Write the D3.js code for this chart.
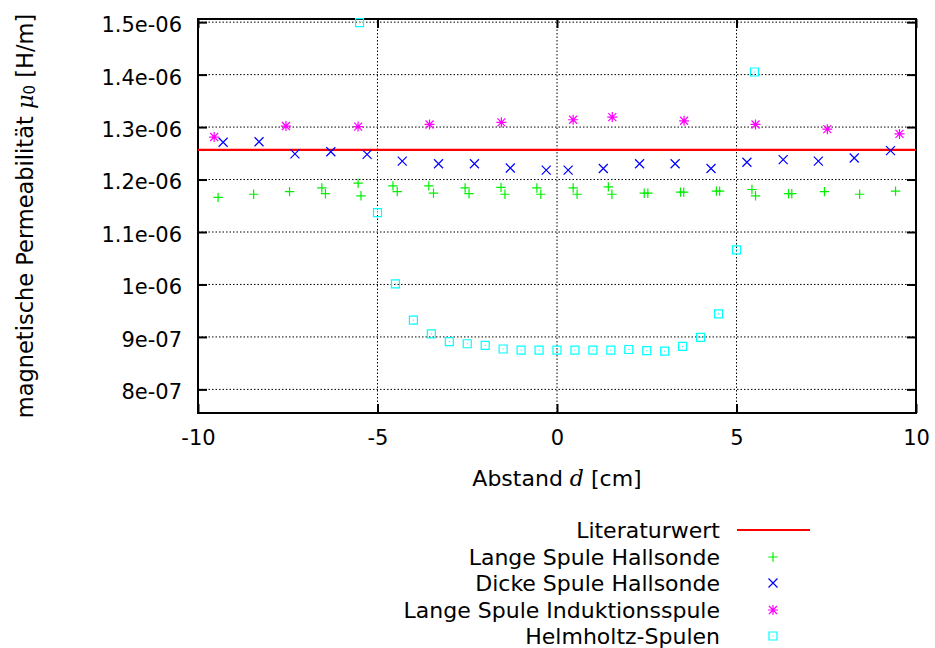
<!DOCTYPE html>
<html><head><meta charset="utf-8">
<script src="https://cdn.jsdelivr.net/npm/d3@7"></script>
<style>body{margin:0;background:#fff}svg{display:block}text{font-family:"DejaVu Sans",sans-serif;fill:#000}</style>
</head><body><svg id="c" width="935" height="648"></svg>
<script>
// ---- data ----
const literatureValue = 1.2566e-6;
const langeHallX = [-9.44,-8.45,-7.45,-6.55,-6.45,-5.54,-5.46,-4.57,-4.45,-3.57,-3.44,-2.56,-2.45,-1.56,-1.45,-0.56,-0.45,0.45,0.56,1.43,1.53,2.43,2.53,3.44,3.53,4.44,4.53,5.43,5.53,6.45,6.54,7.45,8.43,9.43];
const langeHallY = [1.166e-6,1.172e-6,1.177e-6,1.184e-6,1.173e-6,1.193e-6,1.169e-6,1.188e-6,1.177e-6,1.188e-6,1.174e-6,1.184e-6,1.173e-6,1.185e-6,1.172e-6,1.184e-6,1.172e-6,1.184e-6,1.172e-6,1.186e-6,1.172e-6,1.174e-6,1.174e-6,1.176e-6,1.176e-6,1.178e-6,1.178e-6,1.181e-6,1.169e-6,1.173e-6,1.173e-6,1.177e-6,1.172e-6,1.178e-6];
const dickeHallX = [-9.30,-8.30,-7.30,-6.30,-5.29,-4.31,-3.30,-2.30,-1.30,-0.30,0.31,1.29,2.30,3.29,4.29,5.29,6.30,7.28,8.28,9.29];
const dickeHallY = [1.271e-6,1.272e-6,1.249e-6,1.253e-6,1.248e-6,1.235e-6,1.230e-6,1.230e-6,1.222e-6,1.218e-6,1.218e-6,1.221e-6,1.230e-6,1.230e-6,1.221e-6,1.233e-6,1.238e-6,1.235e-6,1.241e-6,1.255e-6];
const langeIndX = [-9.55,-7.55,-5.54,-3.55,-1.55,0.45,1.54,3.54,5.53,7.53,9.54];
const langeIndY = [1.281e-6,1.302e-6,1.301e-6,1.305e-6,1.309e-6,1.314e-6,1.319e-6,1.312e-6,1.305e-6,1.296e-6,1.287e-6];
const helmX = [-5.5,-5.0,-4.5,-4.0,-3.5,-3.0,-2.5,-2.0,-1.5,-1.0,-0.5,0.0,0.5,1.0,1.5,2.0,2.5,3.0,3.5,4.0,4.5,5.0,5.5];
const helmY = [1.499e-6,1.137e-6,1.001e-6,0.932e-6,0.906e-6,0.891e-6,0.887e-6,0.884e-6,0.877e-6,0.875e-6,0.875e-6,0.875e-6,0.875e-6,0.875e-6,0.875e-6,0.876e-6,0.874e-6,0.873e-6,0.882e-6,0.899e-6,0.944e-6,1.066e-6,1.405e-6];
const xTicks = [-10,-5,0,5,10];
const xTickLabels = ["-10","-5","0","5","10"];
const yTicks = [8e-7,9e-7,1e-6,1.1e-6,1.2e-6,1.3e-6,1.4e-6,1.5e-6];
const yTickLabels = ["8e-07","9e-07","1e-06","1.1e-06","1.2e-06","1.3e-06","1.4e-06","1.5e-06"];
const legendLabels = ["Literaturwert","Lange Spule Hallsonde","Dicke Spule Hallsonde","Lange Spule Induktionsspule","Helmholtz-Spulen"];

// ---- layout ----
const L=198, R=916, T=19, B=413;
const x = d3.scaleLinear().domain([-10,10]).range([L,R]);
const y = d3.scaleLinear().domain([0.755e-6,1.506e-6]).range([B,T]);
const svg = d3.select("#c");

// grid
const grid = svg.append("g").attr("stroke","#000").attr("stroke-width",1).attr("stroke-dasharray","1.5,2");
grid.selectAll("line.gx").data(xTicks.filter(v=>v>-10&&v<10)).join("line")
  .attr("x1",d=>x(d)).attr("x2",d=>x(d)).attr("y1",T).attr("y2",B);
grid.selectAll("line.gy").data(yTicks).join("line")
  .attr("x1",L).attr("x2",R).attr("y1",d=>y(d)).attr("y2",d=>y(d));

// axes via d3 axis (inward ticks)
const ax = (g)=>g.call(s=>s.select(".domain").remove()).call(s=>s.selectAll("line").attr("stroke","#000").attr("stroke-width",2));
svg.append("g").attr("transform",`translate(0,${B})`).call(d3.axisBottom(x).tickValues(xTicks).tickSize(-9).tickPadding(17).tickFormat((d,i)=>xTickLabels[i])).call(ax)
  .selectAll("text").attr("font-size",21).attr("font-family","DejaVu Sans").attr("dy","0.71em");
svg.append("g").attr("transform",`translate(0,${T})`).call(d3.axisTop(x).tickValues(xTicks).tickSize(-9).tickFormat("")).call(ax);
svg.append("g").attr("transform",`translate(${L},0)`).call(d3.axisLeft(y).tickValues(yTicks).tickSize(-9).tickPadding(16).tickFormat((d,i)=>yTickLabels[i])).call(ax)
  .selectAll("text").attr("font-size",21).attr("font-family","DejaVu Sans").attr("dy","0.45em");
svg.append("g").attr("transform",`translate(${R},0)`).call(d3.axisRight(y).tickValues(yTicks).tickSize(-9).tickFormat("")).call(ax);

// border
svg.append("rect").attr("x",L).attr("y",T).attr("width",R-L).attr("height",B-T).attr("fill","none").attr("stroke","#000").attr("stroke-width",2);

// marker paths
function plusP(cx,cy,r){return `M${cx-r},${cy}H${cx+r}M${cx},${cy-r}V${cy+r}`;}
function xP(cx,cy,r){return `M${cx-r},${cy-r}L${cx+r},${cy+r}M${cx-r},${cy+r}L${cx+r},${cy-r}`;}
function starP(cx,cy,r){return plusP(cx,cy,r)+xP(cx,cy,r*0.8);}
function boxP(cx,cy,r){return `M${cx-r},${cy-r}H${cx+r}V${cy+r}H${cx-r}Z M${cx-0.5},${cy}h1`;}

// literature line
svg.append("line").attr("x1",L).attr("x2",R).attr("y1",y(literatureValue)).attr("y2",y(literatureValue))
  .attr("stroke","#ff0000").attr("stroke-width",2.2);

const series = [
  {xs:langeHallX, ys:langeHallY, color:"#00f000", f:plusP, r:4.7},
  {xs:dickeHallX, ys:dickeHallY, color:"#0000ff", f:xP, r:4.5},
  {xs:langeIndX, ys:langeIndY, color:"#ff00ff", f:starP, r:5},
  {xs:helmX, ys:helmY, color:"#00ffff", f:boxP, r:4}
];
series.forEach(s=>{
  svg.append("g").selectAll("path").data(s.xs.map((v,i)=>[v,s.ys[i]])).join("path")
    .attr("d",d=>s.f(x(d[0]),y(d[1]),s.r)).attr("fill","none").attr("stroke",s.color).attr("stroke-width",1.2);
});

// axis labels
svg.append("text").attr("x",557).attr("y",478).attr("text-anchor","middle").attr("dominant-baseline","central").attr("font-size",22)
  .call(t=>{t.append("tspan").text("Abstand ");t.append("tspan").attr("font-family","DejaVu Serif").attr("font-style","italic").text("d");t.append("tspan").text(" [cm]");});
svg.append("text").attr("transform","translate(25,216) rotate(-90)").attr("text-anchor","middle").attr("dominant-baseline","central").attr("font-size",22.5)
  .call(t=>{t.append("tspan").text("magnetische Permeabilität ");t.append("tspan").attr("font-family","DejaVu Serif").attr("font-style","italic").text("μ");
    t.append("tspan").attr("font-size",15).attr("dy",5).text("0");t.append("tspan").attr("dy",-5).text(" [H/m]");});

// legend
const legY = [530,557,583,610,636];
legendLabels.forEach((lab,i)=>{
  svg.append("text").attr("x",720).attr("y",legY[i]).attr("text-anchor","end").attr("dominant-baseline","central").attr("font-size",22).text(lab);
});
svg.append("line").attr("x1",737).attr("x2",810).attr("y1",legY[0]).attr("y2",legY[0]).attr("stroke","#ff0000").attr("stroke-width",2.2);
series.forEach((s,i)=>{
  svg.append("path").attr("d",s.f(773,legY[i+1],s.r)).attr("fill","none").attr("stroke",s.color).attr("stroke-width",1.2);
});
</script></body></html>
